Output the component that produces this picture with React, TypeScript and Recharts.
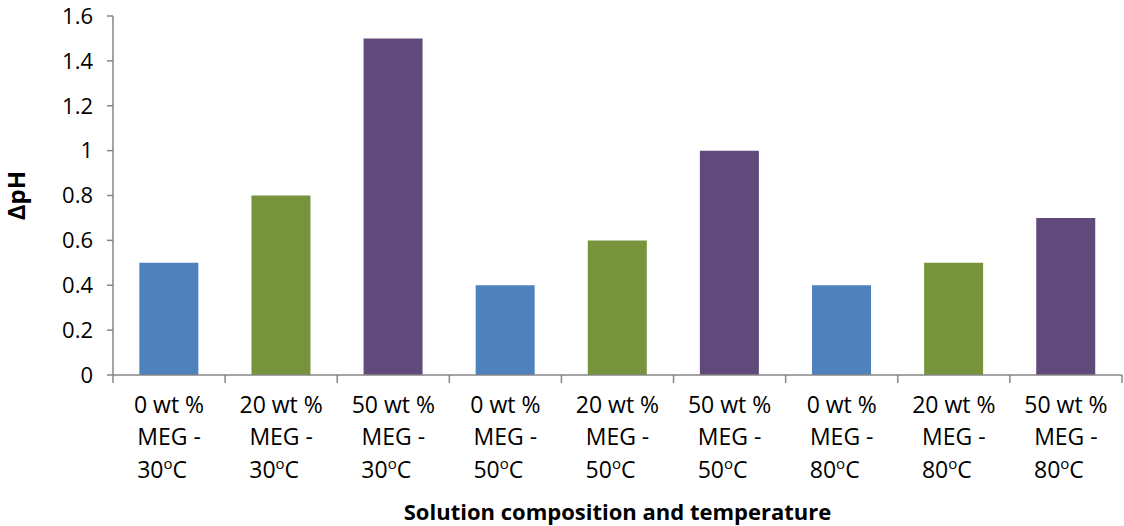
import { BarChart, Bar, Cell, XAxis, YAxis } from 'recharts'

const compositions = ['0 wt %', '20 wt %', '50 wt %', '0 wt %', '20 wt %', '50 wt %', '0 wt %', '20 wt %', '50 wt %']
const temperatures = ['30', '30', '30', '50', '50', '50', '80', '80', '80']
const deltaPH = [0.5, 0.8, 1.5, 0.4, 0.6, 1.0, 0.4, 0.5, 0.7]
const yTicks = [0, 0.2, 0.4, 0.6, 0.8, 1, 1.2, 1.4, 1.6]

const COLORS = ['#4f81bd', '#77933c', '#604a7b']
const FONT = '"Open Sans", sans-serif'
const AXIS = '#868686'

const data = compositions.map((c, i) => ({
  name: `${c} MEG - ${temperatures[i]}`,
  idx: i,
  value: deltaPH[i],
}))

// excel style: tick marks sit between the categories, labels in the middle
function CategoryTick({ x, y, payload }: any) {
  const i = payload.index ?? data.findIndex(d => d.name === payload.value)
  const half = payload.offset ?? 0
  const last = i === data.length - 1
  return (
    <g>
      <line x1={x - half} x2={x - half} y1={y} y2={y + 8} stroke={AXIS} strokeWidth={1.5} />
      {last && <line x1={x + half} x2={x + half} y1={y} y2={y + 8} stroke={AXIS} strokeWidth={1.5} />}
      <text x={x} y={y} textAnchor="middle" fontFamily={FONT} fontSize={23} fill="#000">
        <tspan x={x} dy={38}>{compositions[i]}</tspan>
        <tspan x={x} dy={32}>MEG -</tspan>
        <tspan x={x - 7} dy={33}>{temperatures[i]}</tspan>
        <tspan fontSize={15} dy={-9}>o</tspan>
        <tspan fontSize={23} dy={9}>C</tspan>
      </text>
    </g>
  )
}

export default function App() {
  return (
    <div style={{ position: 'absolute', left: 0, top: 0, background: '#fff' }}>
      <BarChart
        width={1124}
        height={526}
        data={data}
        barCategoryGap="23.5%"
        margin={{ top: 16, right: 2, left: 0, bottom: 0 }}
      >
        <XAxis
          dataKey="name"
          axisLine={{ stroke: AXIS, strokeWidth: 1.5 }}
          tickLine={false}
          tickSize={0}
          tickMargin={0}
          interval={0}
          height={151}
          tick={<CategoryTick />}
          label={{
            value: 'Solution composition and temperature',
            position: 'insideBottom',
            offset: 6,
            style: { fontFamily: FONT, fontSize: 22, fontWeight: 700, fill: '#000' },
          }}
        />
        <YAxis
          domain={[0, 1.6]}
          ticks={yTicks}
          width={113}
          tickSize={6}
          tickMargin={14}
          axisLine={{ stroke: AXIS, strokeWidth: 1.5 }}
          tickLine={{ stroke: AXIS, strokeWidth: 1.5 }}
          tick={{ fontFamily: FONT, fontSize: 22, fill: '#000' }}
          label={{
            value: 'ΔpH',
            angle: -90,
            position: 'insideLeft',
            offset: 16,
            style: { fontFamily: FONT, fontSize: 24, fontWeight: 700, fill: '#000', textAnchor: 'middle' },
          }}
        />
        <Bar dataKey="value" isAnimationActive={false}>
          {data.map((d, i) => (
            <Cell key={i} fill={COLORS[d.idx % 3]} />
          ))}
        </Bar>
      </BarChart>
    </div>
  )
}
